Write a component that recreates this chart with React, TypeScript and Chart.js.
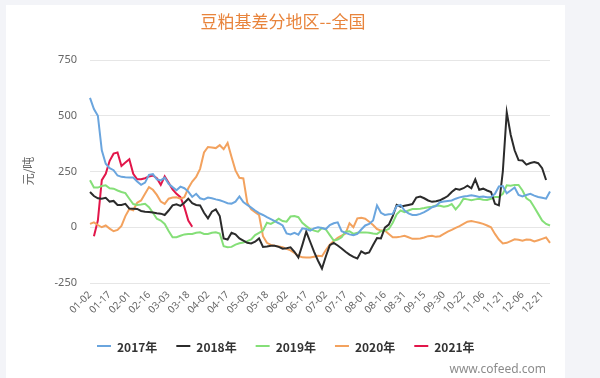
import React, { useEffect, useRef } from 'react';
import { Chart, registerables } from 'chart.js';
Chart.register(...registerables);

const categories = [
  '01-02','01-05','01-08','01-11','01-14','01-17','01-20','01-23','01-26','01-29',
  '02-01','02-04','02-07','02-10','02-13','02-16','02-19','02-22','02-25','02-28',
  '03-03','03-06','03-09','03-12','03-15','03-18','03-21','03-24','03-27','03-30',
  '04-02','04-05','04-08','04-11','04-14','04-17','04-20','04-23','04-26','04-29',
  '05-03','05-06','05-09','05-12','05-15','05-18','05-21','05-24','05-27','05-30',
  '06-02','06-05','06-08','06-11','06-14','06-17','06-20','06-23','06-26','06-29',
  '07-02','07-05','07-08','07-11','07-14','07-17','07-20','07-23','07-26','07-29',
  '08-01','08-04','08-07','08-10','08-13','08-16','08-19','08-22','08-25','08-28',
  '08-31','09-03','09-06','09-09','09-12','09-15','09-18','09-21','09-24','09-27',
  '09-30','10-10','10-13','10-16','10-19','10-22','10-25','10-28','10-31','11-03',
  '11-06','11-09','11-12','11-15','11-18','11-21','11-24','11-27','11-30','12-03',
  '12-06','12-09','12-12','12-15','12-18','12-21','12-24','12-27'
];

const s2017 = [
  580, 530, 500, 345, 285, 265, 256, 232, 226, 224,
  223, 223, 205, 190, 200, 235, 238, 215, 210, 222,
  195, 180, 166, 182, 175, 160, 136, 150, 130, 125,
  133, 130, 125, 121, 115, 108, 106, 115, 138, 113,
  100, 88, 75, 63, 55, 45, 36, 27, 18, 8,
  -28, -32, -25, -33, -5, -8, -15, -5, 0, -3,
  -8, 10, 18, 22, -18, -25, -32, -36, -30, -10,
  8, 15, 30, 98, 65, 55, 58, 60, 95, 100,
  75, 62, 55, 55, 60, 68, 78, 90, 95, 112,
  115, 118, 120, 128, 134, 138, 140, 143, 140, 136,
  138, 135, 136, 150, 183, 185, 152, 165, 178, 145,
  138, 145, 150, 142, 136, 132, 128, 160
];

const s2018 = [
  158, 140, 130, 128, 132, 115, 118, 100, 100, 105,
  84, 83, 82, 73, 70, 68, 66, 63, 61, 55,
  75, 98, 103, 96, 110, 128, 108, 100, 98, 65,
  40, 70, 80, 50, -50, -55, -25, -32, -50, -60,
  -70, -73, -65, -50, -88, -86, -83, -83, -88, -96,
  -94, -90, -110, -136, -80, -20, -65, -110, -150, -185,
  -130, -80, -70, -82, -95, -110, -123, -133, -140, -108,
  -118, -113, -80, -48, -50, -2, 12, 50, 100, 92,
  96, 100, 104, 133, 138, 130, 120, 114, 117, 121,
  130, 140, 158, 172, 168, 175, 186, 175, 215, 168,
  173, 165, 158, 105, 98, 250, 515, 415, 345, 301,
  299, 281, 288, 292, 287, 265, 212
];

const s2019 = [
  211, 178, 178, 185, 188, 175, 173, 165, 158, 153,
  128, 104, 100, 102, 105, 90, 65, 38, 30, 15,
  -17, -45, -45, -38, -32, -30, -30, -25, -23, -30,
  -30, -25, -23, -28, -85, -90, -88, -78, -72, -68,
  -62, -55, -35, -25, -15, 20, 15, 25, 38, 28,
  25, 48, 50, 45, 20, 5, -8, -15, -20, -3,
  -10, -35, -60, -55, -45, -20, -18, -30, -25, -23,
  -23, -25, -28, -30, -18, -15, -8, 20, 58, 75,
  68, 75, 82, 82, 83, 86, 90, 92, 97, 96,
  92, 95, 104, 80, 100, 128, 125, 121, 125, 128,
  123, 122, 128, 136, 136, 150, 188, 186, 190, 190,
  165, 130, 118, 90, 60, 30, 15, 8
];

const s2020 = [
  15, 22, 10, 0, 8, -6, -18, -12, 6, 50,
  82, 76, 110, 120, 150, 180, 168, 145, 115, 105,
  128, 133, 134, 128, 135, 175, 205, 226, 262, 335,
  360, 358, 355, 368, 350, 378, 315, 255, 222, 219,
  110, 80, 68, 55, -40, -70, -79, -83, -86, -90,
  -97, -104, -115, -128, -135, -136, -136, -132, -128, -130,
  -102, -78, -62, -47, -38, -28, 18, 0, 40, 42,
  38, 25, 10, -8, -15, -15, -30, -45, -45, -42,
  -38, -45, -52, -52, -50, -46, -40, -38, -43, -40,
  -30, -20, -12, -3, 5, 15, 25, 28, 24, 20,
  15, 8, 0, -30, -55, -73, -70, -62, -54, -56,
  -60, -55, -56, -64, -58, -52, -46, -70
];

const s2021 = [
  null, -40, 30, 211, 240, 298, 330, 335, 275, 290,
  305, 240, 215, 215, 220, 228, 232, 220, 190, 228,
  200, 170, 150, 135, 90, 30, 2
];

const seriesNames = ['2017年', '2018年', '2019年', '2020年', '2021年'];
const seriesColors = ['#6aa5de', '#2b2b2b', '#85df78', '#f3a25e', '#e2164a'];
const yMin = -250;
const yMax = 750;
const yStep = 250;
const titleText = '豆粕基差分地区--全国';
const yTitleText = '元/吨';
const watermarkText = 'www.cofeed.com';

const decoPlugin = {
  id: 'deco',
  beforeDraw(chart: any) {
    const ctx = chart.ctx;
    ctx.save();
    ctx.fillStyle = '#f3f4f8';
    ctx.fillRect(0, 0, chart.width, chart.height);
    ctx.fillStyle = '#ffffff';
    ctx.fillRect(6, 5, 559, chart.height - 5);
    ctx.restore();
  },
  afterDraw(chart: any) {
    const ctx = chart.ctx;
    ctx.save();
    // title
    ctx.fillStyle = '#e8843c';
    ctx.font = '17px "Noto Sans CJK SC", sans-serif';
    ctx.textAlign = 'center';
    ctx.textBaseline = 'middle';
    ctx.fillText(titleText, 283, 22);
    // y title
    ctx.save();
    ctx.translate(28, 171);
    ctx.rotate(-Math.PI / 2);
    ctx.fillStyle = '#666666';
    ctx.font = '12px "Noto Sans CJK SC", sans-serif';
    ctx.fillText(yTitleText, 0, 0);
    ctx.restore();
    // legend
    ctx.font = 'bold 12px "Noto Sans CJK SC", sans-serif';
    ctx.textAlign = 'left';
    let x = 97;
    const ly = 346;
    chart.data.datasets.forEach((ds: any) => {
      ctx.strokeStyle = ds.borderColor;
      ctx.lineWidth = 2;
      ctx.beginPath();
      ctx.moveTo(x, ly);
      ctx.lineTo(x + 14, ly);
      ctx.stroke();
      ctx.fillStyle = '#333333';
      ctx.fillText(ds.label, x + 20, ly + 1);
      x += 20 + ctx.measureText(ds.label).width + 19;
    });
    // watermark
    ctx.font = '12px "Noto Sans", sans-serif';
    ctx.fillStyle = '#8c8c8c';
    ctx.textAlign = 'right';
    ctx.fillText(watermarkText, 546, 370);
    ctx.restore();
  },
};

export default function App() {
  const ref = useRef<HTMLCanvasElement>(null);
  useEffect(() => {
    if (!ref.current) return;
    const all = [s2017, s2018, s2019, s2020, s2021];
    const chart = new Chart(ref.current, {
      type: 'line',
      data: {
        labels: categories,
        datasets: all.map((d, i) => ({
          label: seriesNames[i],
          data: d,
          borderColor: seriesColors[i],
          backgroundColor: seriesColors[i],
          borderWidth: 2,
          pointRadius: 0,
          tension: 0,
          fill: false,
        })),
      },
      options: {
        responsive: false,
        animation: false,
        layout: { padding: { left: 0, right: 50, top: 60, bottom: 0 } },
        plugins: {
          legend: { display: false },
          title: { display: false },
          tooltip: { enabled: false },
        },
        scales: {
          x: {
            type: 'category',
            offset: false,
            grid: { display: false, drawTicks: false },
            border: { display: false },
            ticks: {
              autoSkip: false,
              minRotation: 45,
              maxRotation: 45,
              padding: 6,
              color: '#666666',
              font: { size: 10, family: '"Noto Sans", sans-serif' },
              callback: (v: any, i: number) => (i % 5 === 0 ? categories[i] : ''),
            },
            afterFit: (s: any) => { s.height = 95; },
          },
          y: {
            min: yMin,
            max: yMax,
            grid: { color: '#e6e6e6', lineWidth: 1, drawTicks: false },
            border: { display: false },
            ticks: {
              stepSize: yStep,
              padding: 13,
              color: '#666666',
              font: { size: 11, family: '"Noto Sans", sans-serif' },
            },
            afterFit: (s: any) => { s.width = 90; },
          },
        },
      },
      plugins: [decoPlugin],
    });
    return () => chart.destroy();
  }, []);
  return (
    <div style={{ position: 'absolute', left: 0, top: 0, width: 600, height: 378 }}>
      <canvas ref={ref} width={600} height={378} style={{ width: 600, height: 378 }} />
    </div>
  );
}
